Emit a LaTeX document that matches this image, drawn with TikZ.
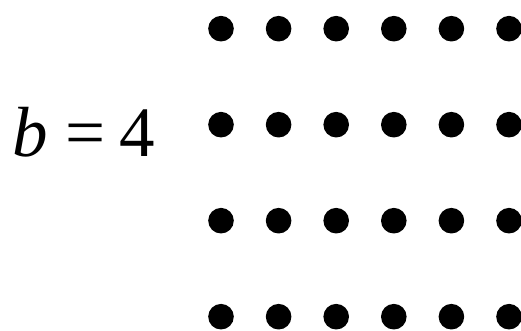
\documentclass[tikz,border=0pt]{standalone}
\usepackage{fontspec}
\setmainfont{Liberation Serif}
\usepackage{tikz}
\usetikzlibrary{positioning}
\tikzset{
  every picture/.style={x=1pt,y=1pt},
  dot/.style={circle,fill=black,inner sep=0pt,minimum size=25.6pt},
  biglabel/.style={font=\fontsize{71}{80}\selectfont,inner sep=0pt,anchor=base west},
}

\begin{document}
\begin{tikzpicture}
  \useasboundingbox (0,0) rectangle (521,331);
  \foreach \i in {0,...,3}{
    \foreach \j in {0,...,5}{
      \node[dot] (dot-\i-\j) at ({221+57.6*\j},{331-28.7-96*\i}) {};
    }
  }
  \node[biglabel] (blabel) at (12,174) {\textit{b}\kern18pt=\kern14pt4};
\end{tikzpicture}
\end{document}
